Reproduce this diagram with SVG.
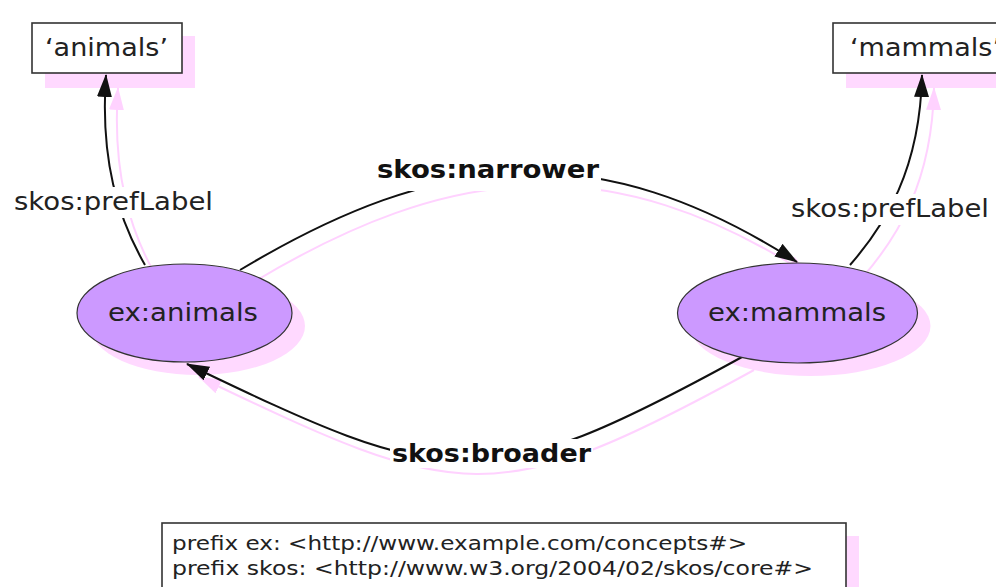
<svg xmlns="http://www.w3.org/2000/svg" width="996" height="587" viewBox="0 0 996 587">
<style>
.bg{fill:#ffffff}
.shadow{fill:#ffd9ff;stroke:none}
.box{fill:#ffffff;stroke:#333333;stroke-width:1.6}
.ell{fill:#cc99ff;stroke:#333333;stroke-width:1.2}
.edge{fill:none;stroke:#111111;stroke-width:2}
.pedge{fill:none;stroke:#ffd2ff;stroke-width:2}
.t{font-family:"DejaVu Sans","Verdana",sans-serif;font-size:25px;fill:#222222}
.tb{font-family:"DejaVu Sans","Verdana",sans-serif;font-size:25px;font-weight:bold;fill:#111111}
.ts{font-family:"DejaVu Sans","Verdana",sans-serif;font-size:20px;fill:#222222}
.lbg{fill:#ffffff}
</style>
<defs>
<marker id="arr" viewBox="0 0 23 15" markerUnits="userSpaceOnUse" markerWidth="23" markerHeight="15" refX="22" refY="7.5" orient="auto">
<path d="M0,0 L23,7.5 L0,15 z" fill="#111111"/>
</marker>
<marker id="parr" viewBox="0 0 23 15" markerUnits="userSpaceOnUse" markerWidth="23" markerHeight="15" refX="22" refY="7.5" orient="auto">
<path d="M0,0 L23,7.5 L0,15 z" fill="#ffd2ff"/>
</marker>
</defs>
<rect class="bg" x="0" y="0" width="996" height="587"/>

<g id="shadows">
<rect class="shadow" x="45" y="36" width="150" height="52"/>
<rect class="shadow" x="846" y="36" width="180" height="52"/>
<ellipse class="shadow" cx="197.5" cy="326" rx="107.5" ry="49"/>
<ellipse class="shadow" cx="810.5" cy="326" rx="120" ry="50"/>
<rect class="shadow" x="175" y="536" width="684" height="80"/>
</g>

<g id="connectors">
<g transform="translate(12,13)">
<path class="pedge" d="M145,265 C118,218 100,160 106,75" marker-end="url(#parr)"/>
<path class="pedge" d="M850,265 C885,225 920,170 922,75" marker-end="url(#parr)"/>
<path class="pedge" d="M240,270 C440,150 597,134 797,262" marker-end="url(#parr)"/>
<path class="pedge" d="M742,357 C482,500 447,489 187,364" marker-end="url(#parr)"/>
</g>
<path class="edge" d="M145,265 C118,218 100,160 106,75" marker-end="url(#arr)"/>
<path class="edge" d="M850,265 C885,225 920,170 922,75" marker-end="url(#arr)"/>
<path class="edge" d="M240,270 C440,150 597,134 797,262" marker-end="url(#arr)"/>
<path class="edge" d="M742,357 C482,500 447,489 187,364" marker-end="url(#arr)"/>
<rect class="lbg" x="12" y="187" width="203" height="31"/>
<text class="t" x="14" y="210" textLength="199" lengthAdjust="spacingAndGlyphs">skos:prefLabel</text>
<rect class="lbg" x="789" y="194" width="203" height="31"/>
<text class="t" x="791" y="217" textLength="198" lengthAdjust="spacingAndGlyphs">skos:prefLabel</text>
<rect class="lbg" x="375" y="155" width="226" height="36"/>
<text class="tb" x="377" y="178" textLength="222" lengthAdjust="spacingAndGlyphs">skos:narrower</text>
<rect class="lbg" x="390" y="439" width="203" height="29"/>
<text class="tb" x="392" y="462" textLength="199" lengthAdjust="spacingAndGlyphs">skos:broader</text>
</g>

<g id="node-animals-literal">
<rect class="box" x="32" y="23" width="150" height="50"/>
<text class="t" x="45" y="56" textLength="123" lengthAdjust="spacingAndGlyphs">‘animals’</text>
</g>

<g id="node-mammals-literal">
<rect class="box" x="833" y="23" width="180" height="50"/>
<text class="t" x="850" y="56" textLength="151" lengthAdjust="spacingAndGlyphs">‘mammals’</text>
</g>

<g id="node-ex-animals">
<ellipse class="ell" cx="184.5" cy="313" rx="107.5" ry="49"/>
<text class="t" x="108" y="321" textLength="150" lengthAdjust="spacingAndGlyphs">ex:animals</text>
</g>

<g id="node-ex-mammals">
<ellipse class="ell" cx="797.5" cy="313" rx="120" ry="50"/>
<text class="t" x="708" y="321" textLength="178" lengthAdjust="spacingAndGlyphs">ex:mammals</text>
</g>

<g id="node-prefixes">
<rect class="box" x="162" y="523" width="684" height="80"/>
<text class="ts" x="172" y="550" textLength="575" lengthAdjust="spacingAndGlyphs">prefix ex: &lt;http://www.example.com/concepts#&gt;</text>
<text class="ts" x="172" y="575" textLength="641" lengthAdjust="spacingAndGlyphs">prefix skos: &lt;http://www.w3.org/2004/02/skos/core#&gt;</text>
</g>
</svg>
